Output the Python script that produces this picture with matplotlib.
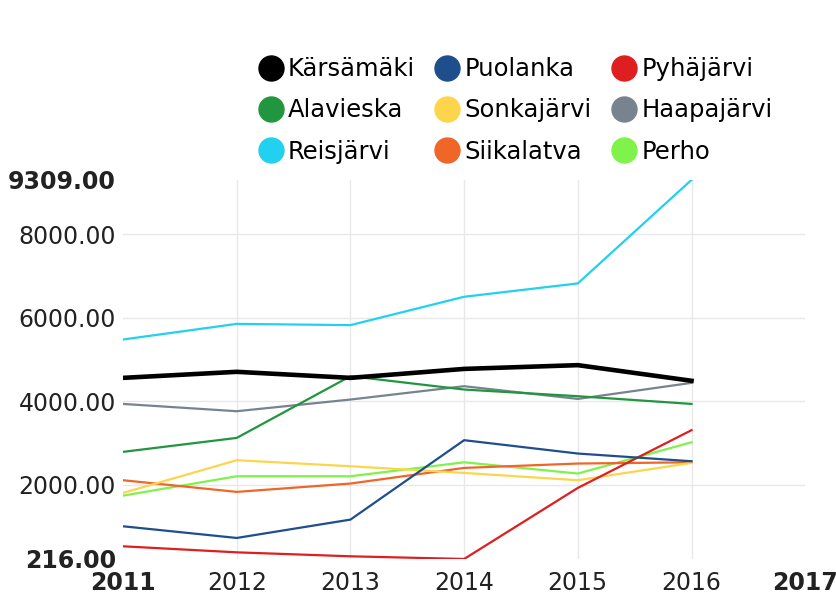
import matplotlib.pyplot as plt
from matplotlib.lines import Line2D

years = [2011, 2012, 2013, 2014, 2015, 2016]

karsamaki = [4560, 4705, 4560, 4775, 4865, 4490]
puolanka = [1000, 720, 1160, 3065, 2745, 2560]
pyhajarvi = [520, 375, 280, 216, 1920, 3305]
alavieska = [2785, 3120, 4600, 4280, 4120, 3935]
sonkajarvi = [1800, 2585, 2440, 2280, 2105, 2520]
haapajarvi = [3935, 3760, 4040, 4360, 4055, 4440]
reisjarvi = [5480, 5855, 5825, 6505, 6825, 9309]
siikalatva = [2105, 1825, 2025, 2400, 2505, 2535]
perho = [1735, 2200, 2200, 2535, 2265, 3015]

names = ['Kärsämäki', 'Puolanka', 'Pyhäjärvi',
         'Alavieska', 'Sonkajärvi', 'Haapajärvi',
         'Reisjärvi', 'Siikalatva', 'Perho']
series = [karsamaki, puolanka, pyhajarvi,
          alavieska, sonkajarvi, haapajarvi,
          reisjarvi, siikalatva, perho]
colors = ['#000000', '#1f4e8c', '#dd1f1f',
          '#21963f', '#fcd54c', '#788390',
          '#22d0ef', '#ef6627', '#7ff24b']

ymin, ymax = 216, 9309
yticks = [216, 2000, 4000, 6000, 8000, 9309]
xticks = [2011, 2012, 2013, 2014, 2015, 2016, 2017]

fig = plt.figure(figsize=(8.37, 5.97), dpi=100)
ax = fig.add_axes([0.147, 0.0637, 0.815, 0.635])

for v in [2000, 4000, 6000, 8000]:
    ax.axhline(v, color='#e8e8e8', lw=1, zorder=0)
for x in xticks[1:-1]:
    ax.axvline(x, color='#e8e8e8', lw=1, zorder=0)

# draw in reverse so the thick black line stays on top
for name, vals, c in reversed(list(zip(names, series, colors))):
    lw = 3.3 if name == 'Kärsämäki' else 1.6
    ax.plot(years, vals, color=c, lw=lw, zorder=3 if lw > 2 else 2)

ax.set_xlim(2011, 2017)
ax.set_ylim(ymin, ymax)
ax.set_yticks(yticks)
ax.set_yticklabels([f'{v:.2f}' for v in yticks])
ax.set_xticks(xticks)
ax.set_xticklabels([str(x) for x in xticks])
for lab in [ax.get_yticklabels()[0], ax.get_yticklabels()[-1],
            ax.get_xticklabels()[0], ax.get_xticklabels()[-1]]:
    lab.set_fontweight('bold')
ax.tick_params(axis='both', length=0, labelsize=17, colors='#222222')
ax.tick_params(axis='y', pad=5)
ax.tick_params(axis='x', pad=9)
for s in ax.spines.values():
    s.set_visible(False)

# legend fills row by row in the reference, matplotlib fills by column
order = [0, 3, 6, 1, 4, 7, 2, 5, 8]
handles = [Line2D([], [], marker='o', ls='', color=colors[i], markersize=18)
           for i in order]
labels = [names[i] for i in order]
leg = fig.legend(handles, labels, ncol=3, frameon=False, fontsize=17.5,
                 loc='upper left', bbox_to_anchor=(0.30, 0.92),
                 handlelength=0.8, handletextpad=0.3, columnspacing=0.95,
                 labelspacing=0.7, borderaxespad=0)

fig.savefig('out.png', dpi=100, facecolor='white')
